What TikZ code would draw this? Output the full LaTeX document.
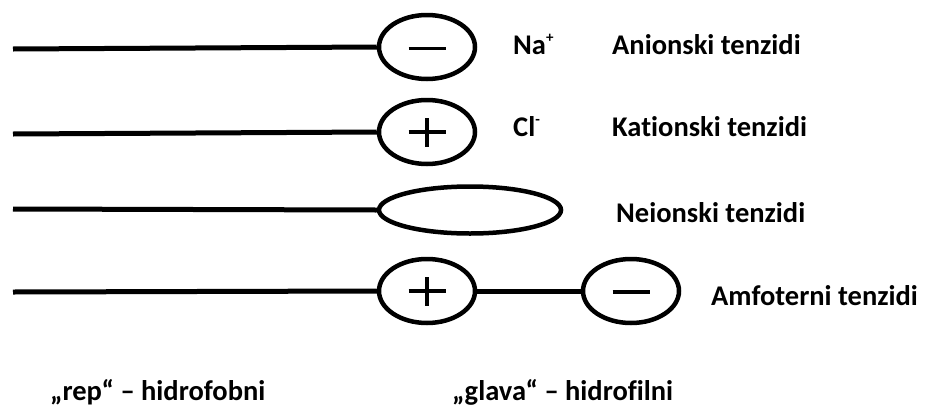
\documentclass[tikz,border=0pt]{standalone}
\usepackage{fontspec}
\setmainfont{Carlito}[Ligatures={NoCommon}]
\usetikzlibrary{shapes.geometric}
\newcommand{\smallsup}[1]{\raisebox{0.42em}{\fontsize{15}{15}\selectfont #1}}
\tikzset{
  head/.style={ellipse, draw, line width=4.5pt, inner sep=0pt, minimum width=96pt, minimum height=64pt},
  flathead/.style={ellipse, draw, line width=4.5pt, inner sep=0pt, minimum width=182pt, minimum height=47pt},
  tail/.style={line width=5pt},
  sign/.style={line width=3.5pt},
  lbl/.style={anchor=base west, inner sep=0pt, font=\bfseries\fontsize{28.5}{34}\selectfont},
}
\begin{document}
\begin{tikzpicture}[x=1pt,y=-1pt]
\useasboundingbox (0,0) rectangle (942,418);
% row 1
\node[head] (e1) at (427,47) {};
\coordinate (t1) at (13,49);
\draw[tail] (t1) -- (e1.west);
\draw[sign] ([xshift=-18.5pt,yshift=-1.5pt]e1.center) -- ([xshift=18.5pt,yshift=-1.5pt]e1.center);
\node[lbl] (na) at (513,54) {Na\smallsup{+}};
\node[lbl] (an) at (612,54) {Anionski tenzidi};
% row 2
\node[head] (e2) at (427,132) {};
\coordinate (t2) at (13,134);
\draw[tail] (t2) -- (e2.west);
\draw[sign] ([xshift=-18.5pt]e2.center) -- ([xshift=18.5pt]e2.center);
\draw[sign] ([yshift=-14.5pt]e2.center) -- ([yshift=14.5pt]e2.center);
\node[lbl] (cl) at (513,136) {Cl\smallsup{-}};
\node[lbl] (ka) at (612,136) {Kationski tenzidi};
% row 3
\node[flathead] (e3) at (470,210) {};
\coordinate (t3) at (13,209);
\draw[tail] (t3) -- (e3.west);
\node[lbl] (ne) at (616,222) {Neionski tenzidi};
% row 4
\node[head] (e4) at (427,291) {};
\node[head] (e5) at (631,291) {};
\coordinate (t4) at (13,292);
\draw[tail] (t4) -- (e4.west);
\draw[tail] (e4.east) -- (e5.west);
\draw[sign] ([xshift=-18.5pt]e4.center) -- ([xshift=18.5pt]e4.center);
\draw[sign] ([yshift=-14.5pt]e4.center) -- ([yshift=14.5pt]e4.center);
\draw[sign] ([xshift=-18.5pt,yshift=-1pt]e5.center) -- ([xshift=18.5pt,yshift=-1pt]e5.center);
\node[lbl] (am) at (711,305) {Amfoterni tenzidi};
% bottom labels
\node[lbl] (rep) at (50,400) {„rep“ – hidrofobni};
\node[lbl] (gl) at (452,400) {„glava“ – hidrofilni};
\end{tikzpicture}
\end{document}
